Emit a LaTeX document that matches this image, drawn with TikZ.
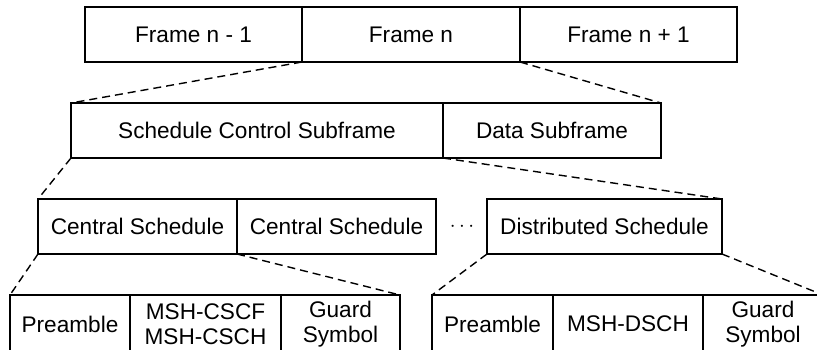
\documentclass[tikz,border=0pt]{standalone}
\usepackage{fontspec}
\setmainfont{Liberation Sans}
\begin{document}
\begin{tikzpicture}[x=1pt,y=-1pt,
  cell/.style={draw=black, line width=1.6pt, outer sep=0pt, inner sep=0pt,
    minimum height=55pt, align=center,
    font=\fontsize{22.6}{25.5}\selectfont},
  lowcell/.style={cell, minimum height=58pt},
  gap/.style={inner sep=0pt, font=\fontsize{22.6}{25.5}\selectfont},
  zoomline/.style={draw=black, line width=1.4pt, dash pattern=on 8pt off 5pt}]
\useasboundingbox (0,0) rectangle (817,349);
\clip (0,0) rectangle (817,349);

% frames
\node[cell, minimum width=217pt] (f1) at (193.5,34.5) {Frame n - 1};
\node[cell, minimum width=218pt] (f2) at (411,34.5) {Frame n};
\node[cell, minimum width=217pt] (f3) at (628.5,34.5) {Frame n + 1};

% subframes of frame n
\node[cell, minimum width=372pt] (s1) at (257,130.5) {Schedule Control Subframe};
\node[cell, minimum width=218pt] (s2) at (552,130.5) {Data Subframe};

% schedules of the control subframe
\node[cell, minimum width=199pt] (c1) at (137.5,226.5) {Central Schedule};
\node[cell, minimum width=199pt] (c2) at (336.5,226.5) {Central Schedule};
\node[gap] (dots) at (462,226.5) {$\cdots$};
\node[cell, minimum width=235pt] (d) at (604.5,226.5) {Distributed Schedule};

% central schedule fields
\node[lowcell, minimum width=120pt] (p1) at (70,324) {Preamble};
\node[lowcell, minimum width=151pt] (m1) at (205.5,324) {MSH-CSCF\\MSH-CSCH};
\node[lowcell, minimum width=119pt] (g1) at (340.5,324) {Guard\\Symbol};

% distributed schedule fields
\node[lowcell, minimum width=121pt] (p2) at (492.5,324) {Preamble};
\node[lowcell, minimum width=150pt] (m2) at (628,324) {MSH-DSCH};
\node[lowcell, minimum width=120pt] (g2) at (763,324) {Guard\\Symbol};

% expansion lines
\draw[zoomline] (f1.south east) -- (s1.north west);
\draw[zoomline] (f3.south west) -- (s2.north east);
\draw[zoomline] (s1.south west) -- (c1.north west);
\draw[zoomline] (s1.south east) -- (d.north east);
\draw[zoomline] (c1.south west) -- (p1.north west);
\draw[zoomline] (c1.south east) -- (g1.north east);
\draw[zoomline] (d.south west) -- (p2.north west);
\draw[zoomline] (d.south east) -- (g2.north east);
\end{tikzpicture}
\end{document}
